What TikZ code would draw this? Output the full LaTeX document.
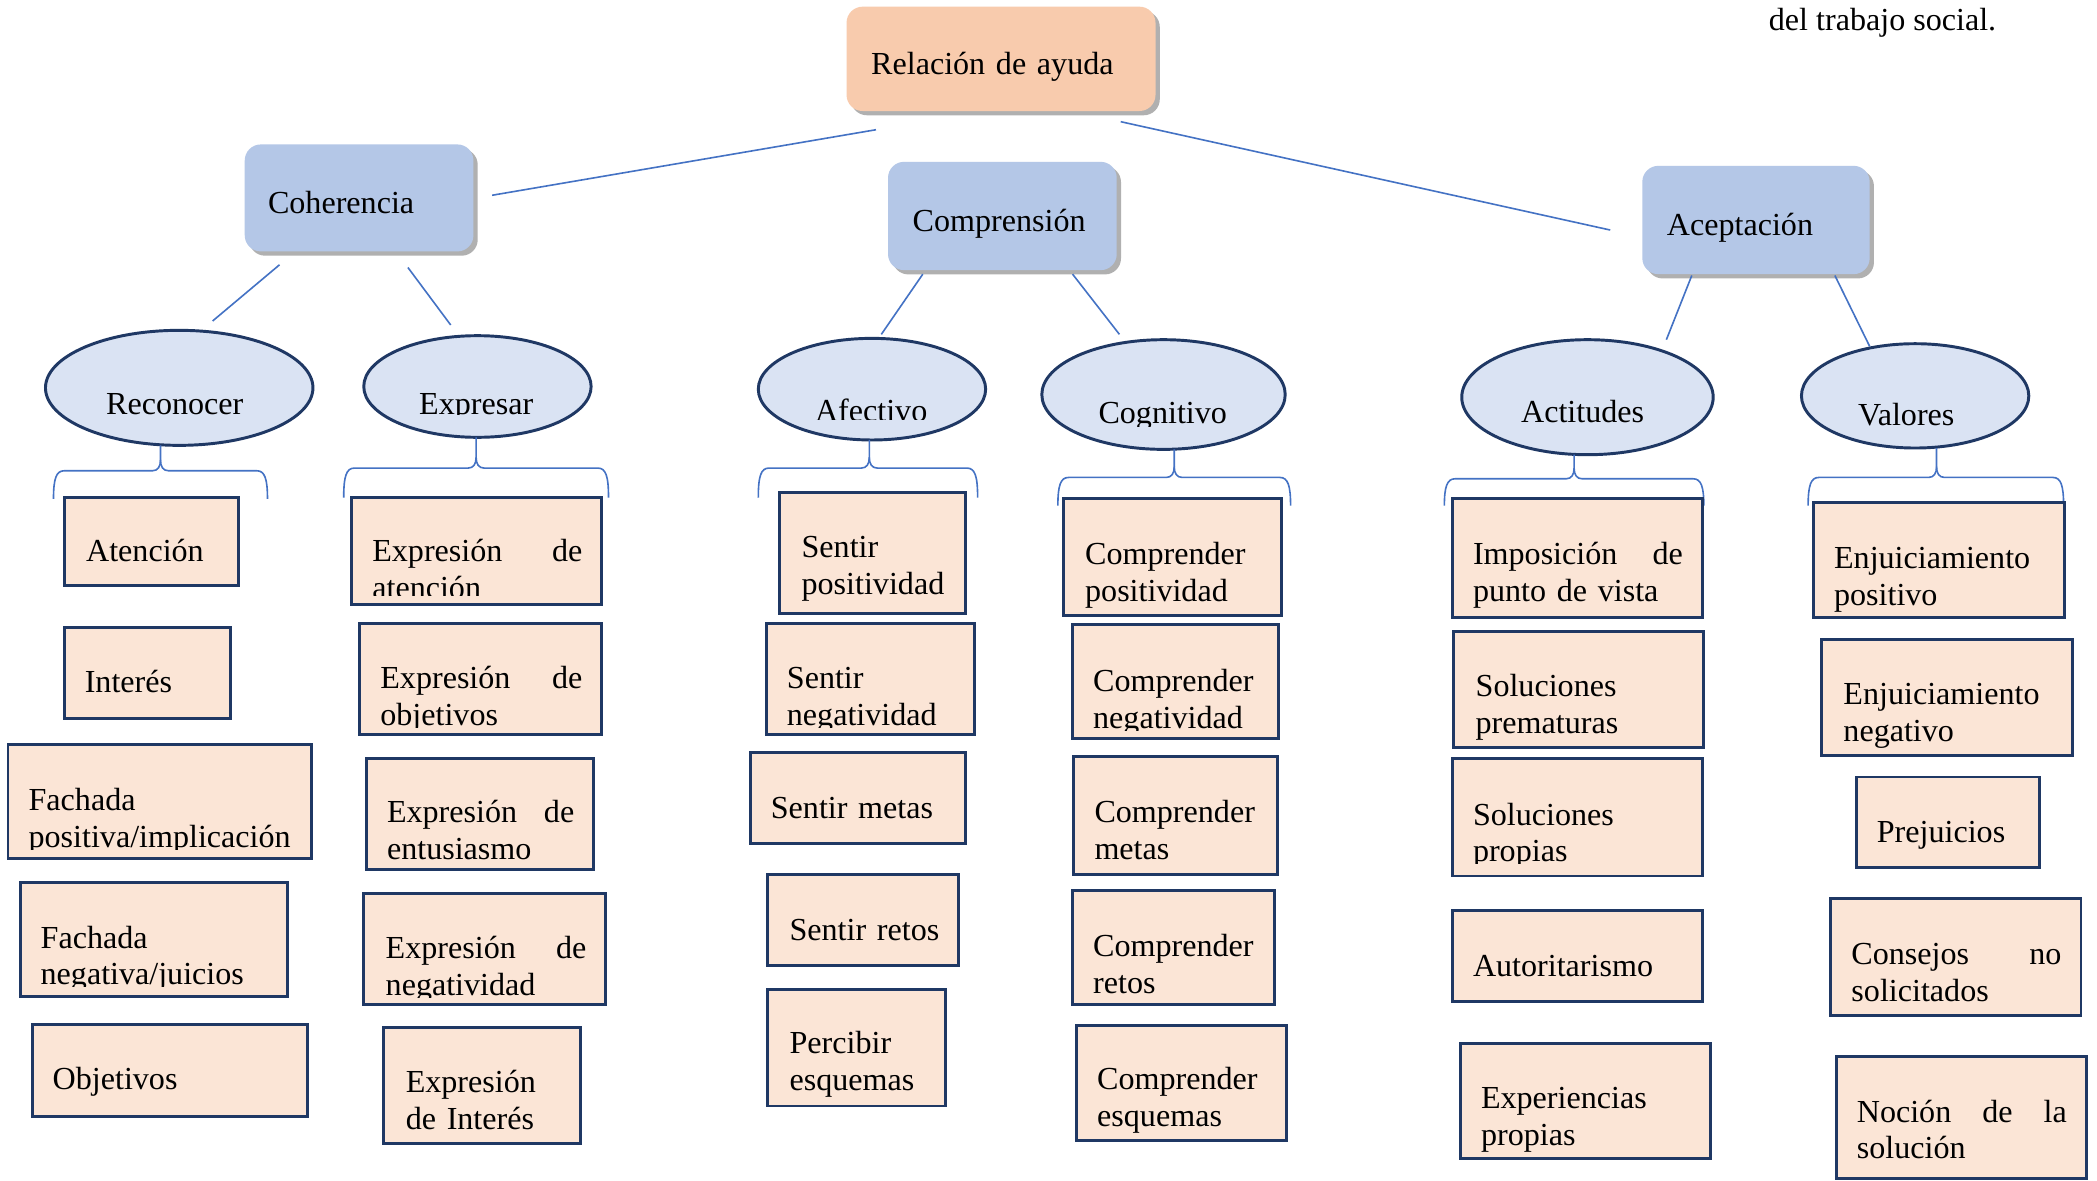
\documentclass[tikz,border=0pt]{standalone}
\usepackage{fontspec}
\setmainfont{Liberation Serif}
\usetikzlibrary{shapes.geometric,shadows,fit}
\definecolor{peach}{HTML}{F8CBAD}
\definecolor{catblue}{HTML}{B4C7E7}
\definecolor{ellfill}{HTML}{DAE3F3}
\definecolor{itemfill}{HTML}{FBE5D6}
\definecolor{navy}{HTML}{1F3864}
\definecolor{lineblue}{HTML}{4472C4}
\definecolor{shadowgray}{HTML}{B0B0B0}
\tikzset{
  plain/.style={inner sep=0pt, font=\fontsize{12}{13.75}\selectfont},
  txt/.style={plain, anchor=base west, align=left, text width=115pt, yshift=-1pt},
  tw/.style={text width=#1},
  item/.style={draw=navy, line width=1.1pt, fill=itemfill, inner sep=0pt},
  topbox/.style={rounded corners=6pt, fill=#1, inner sep=0pt,
    drop shadow={shadow xshift=1.6pt, shadow yshift=-1.6pt, fill=shadowgray, opacity=1}},
  ell/.style={ellipse, draw=navy, line width=1.1pt, fill=ellfill, inner sep=0pt},
  conn/.style={draw=lineblue, line width=0.6pt},
}
\newcommand\clipat[1]{\clip (-10,-10) rectangle (1600,#1+2);}
% brace: xl, xc, xr, ytop, yh, ybot
\newcommand\llave[6]{%
  \draw[conn] (#1,#6) .. controls (#1,#5+6) and (#1+2,#5) .. (#1+8,#5) -- (#2-6,#5)
     .. controls (#2-2,#5) and (#2,#5-3) .. (#2,#5-8) -- (#2,#4);
  \draw[conn] (#2,#5-8) .. controls (#2,#5-3) and (#2+2,#5) .. (#2+6,#5) -- (#3-8,#5)
     .. controls (#3-2,#5) and (#3,#5+6) .. (#3,#6);}
\begin{document}
\begin{tikzpicture}[x=0.5pt,y=-0.5pt]
\useasboundingbox (0,0) rectangle (1568,883);
\fill[white] (0,0) rectangle (1568,883);

% top caption fragment
\node[plain, anchor=base east] (cap) at (1493,23) {del trabajo social.};

% top level boxes
\node[topbox=peach, fit={(633,5) (864,83)}] (rel) {};
\node[txt] (t_rel) at (651,54) {Relación de ayuda};
\node[topbox=catblue, fit={(183,108) (354,188)}] (coh) {};
\node[txt] (t_coh) at (200,158) {Coherencia};
\node[topbox=catblue, fit={(664,121) (835,202)}] (comp) {};
\node[txt] (t_comp) at (682,171) {Comprensión};
\node[topbox=catblue, fit={(1228,124) (1398,205)}] (acep) {};
\node[txt] (t_acep) at (1246,174) {Aceptación};

% connectors (floating lines)
\coordinate (r1) at (655,97);  \coordinate (r1e) at (368,146);
\coordinate (r2) at (838,91);  \coordinate (r2e) at (1204,172);
\draw[conn] (r1) -- (r1e);
\draw[conn] (r2) -- (r2e);
\coordinate (a1) at (209,198); \coordinate (a1e) at (159,240);
\coordinate (a2) at (305,200); \coordinate (a2e) at (337,243);
\coordinate (b1) at (690,205); \coordinate (b1e) at (659,250);
\coordinate (b2) at (802,205); \coordinate (b2e) at (837,250);
\coordinate (c1) at (1265,206); \coordinate (c1e) at (1246,254);
\coordinate (c2) at (1372,206); \coordinate (c2e) at (1398,259);
\draw[conn] (a1) -- (a1e); \draw[conn] (a2) -- (a2e);
\draw[conn] (b1) -- (b1e); \draw[conn] (b2) -- (b2e);
\draw[conn] (c1) -- (c1e); \draw[conn] (c2) -- (c2e);

% ellipses
\node[ell, minimum width=100pt, minimum height=43pt] (rec) at (134,290) {};
\node[txt] (t_rec) at (79,308) {Reconocer};
\node[ell, minimum width=85pt, minimum height=38pt] (exp) at (357,289) {};
\begin{scope}\clipat{308}\node[txt] (t_exp) at (313,308) {Expresar};\end{scope}
\node[ell, minimum width=85pt, minimum height=38pt] (afe) at (652,291) {};
\begin{scope}\clipat{312}\node[txt] (t_afe) at (609,313) {Afectivo};\end{scope}
\node[ell, minimum width=91pt, minimum height=41pt] (cog) at (870,295) {};
\begin{scope}\clipat{317}\node[txt] (t_cog) at (821,315) {Cognitivo};\end{scope}
\node[ell, minimum width=94pt, minimum height=43pt] (act) at (1187,297) {};
\node[txt] (t_act) at (1137,314) {Actitudes};
\node[ell, minimum width=85pt, minimum height=39pt] (val) at (1432,296) {};
\node[txt] (t_val) at (1389,316) {Valores};

% braces
\llave{40}{120}{200}{333}{352}{373}
\llave{257}{356}{455}{327}{350}{372}
\llave{567}{650}{731}{329}{350}{372}
\llave{791}{878}{965}{336}{357}{378}
\llave{1080}{1177}{1274}{340}{358}{378}
\llave{1352}{1448}{1543}{335}{357}{378}

% column 1
\node[item, fit={(48,372) (178,438)}] (aten) {};
\node[txt] (t_aten) at (64,418) {Atención};
\node[item, fit={(48,469) (172,537)}] (inter) {};
\node[txt] (t_inter) at (63,516) {Interés};
\node[item, fit={(6,557) (233,642)}] (fpos) {};
\begin{scope}\clipat{633}\node[txt] (t_fpos) at (21,604) {Fachada\\positiva/implicación};\end{scope}
\node[item, fit={(15,660) (215,745)}] (fneg) {};
\begin{scope}\clipat{736}\node[txt] (t_fneg) at (30,707) {Fachada\\negativa/juicios};\end{scope}
\node[item, fit={(24,766) (230,835)}] (obj) {};
\node[txt] (t_obj) at (39,813) {Objetivos};

% column 2
\node[item, fit={(263,372) (450,452)}] (eat) {};
\begin{scope}\clipat{443}\node[txt, tw=78.5pt] (t_eat) at (278,418) {Expresión\hfill de\\atención};\end{scope}
\node[item, fit={(269,466) (450,549)}] (eob) {};
\begin{scope}\clipat{542}\node[txt, tw=75.5pt] (t_eob) at (284,513) {Expresión\hfill de\\objetivos};\end{scope}
\node[item, fit={(274,567) (444,650)}] (ent) {};
\node[txt, tw=70pt] (t_ent) at (289,613) {Expresión\hfill de\\entusiasmo};
\node[item, fit={(272,668) (453,751)}] (eng) {};
\begin{scope}\clipat{744}\node[txt, tw=75pt] (t_eng) at (288,715) {Expresión\hfill de\\negatividad};\end{scope}
\node[item, fit={(287,768) (434,855)}] (ein) {};
\node[txt] (t_ein) at (303,815) {Expresión\\de Interés};

% column 3
\node[item, fit={(583,368) (722,459)}] (spo) {};
\node[txt] (t_spo) at (599,415) {Sentir\\positividad};
\node[item, fit={(573,466) (729,549)}] (sng) {};
\begin{scope}\clipat{542}\node[txt] (t_sng) at (588,513) {Sentir\\negatividad};\end{scope}
\node[item, fit={(561,563) (722,631)}] (smt) {};
\node[txt] (t_smt) at (576,610) {Sentir metas};
\node[item, fit={(574,654) (717,722)}] (srt) {};
\node[txt] (t_srt) at (590,701) {Sentir retos};
\node[item, fit={(574,740) (707,827)}] (pes) {};
\node[txt] (t_pes) at (590,786) {Percibir\\esquemas};

% column 4
\node[item, fit={(795,373) (958,460)}] (cpo) {};
\node[txt] (t_cpo) at (811,420) {Comprender\\positividad};
\node[item, fit={(802,467) (956,552)}] (cng) {};
\begin{scope}\clipat{544}\node[txt] (t_cng) at (817,515) {Comprender\\negatividad};\end{scope}
\node[item, fit={(803,566) (955,654)}] (cmt) {};
\begin{scope}\clipat{642}\node[txt] (t_cmt) at (818,613) {Comprender\\metas};\end{scope}
\node[item, fit={(802,666) (953,751)}] (crt) {};
\node[txt] (t_crt) at (817,713) {Comprender\\retos};
\node[item, fit={(805,767) (962,853)}] (ces) {};
\node[txt] (t_ces) at (820,813) {Comprender\\esquemas};

% column 5
\node[item, fit={(1086,373) (1273,462)}] (imp) {};
\node[txt, tw=78.5pt] (t_imp) at (1101,420) {Imposición\hfill de\\punto de vista};
\node[item, fit={(1087,472) (1274,559)}] (spr) {};
\node[txt] (t_spr) at (1103,519) {Soluciones\\prematuras};
\node[item, fit={(1086,567) (1273,655)}] (spp) {};
\begin{scope}\clipat{644}\node[txt] (t_spp) at (1101,615) {Soluciones\\propias};\end{scope}
\node[item, fit={(1086,681) (1273,749)}] (aut) {};
\node[txt] (t_aut) at (1101,728) {Autoritarismo};
\node[item, fit={(1092,780) (1279,866)}] (exq) {};
\node[txt] (t_exq) at (1107,827) {Experiencias\\propias};

% column 6
\node[item, fit={(1356,376) (1544,462)}] (epo) {};
\node[txt] (t_epo) at (1371,423) {Enjuiciamiento\\positivo};
\node[item, fit={(1362,478) (1550,565)}] (eng2) {};
\node[txt] (t_eng2) at (1378,525) {Enjuiciamiento\\negativo};
\node[item, fit={(1388,581) (1525,649)}] (pre) {};
\node[txt] (t_pre) at (1403,628) {Prejuicios};
\node[item, fit={(1369,672) (1556,759)}] (con) {};
\node[txt, tw=78.5pt] (t_con) at (1384,719) {Consejos\hfill no\\solicitados};
\node[item, fit={(1373,790) (1560,881)}] (noc) {};
\node[txt, tw=78.5pt] (t_noc) at (1388,837) {Noción\hfill de\hfill la\\solución};
\end{tikzpicture}
\end{document}
